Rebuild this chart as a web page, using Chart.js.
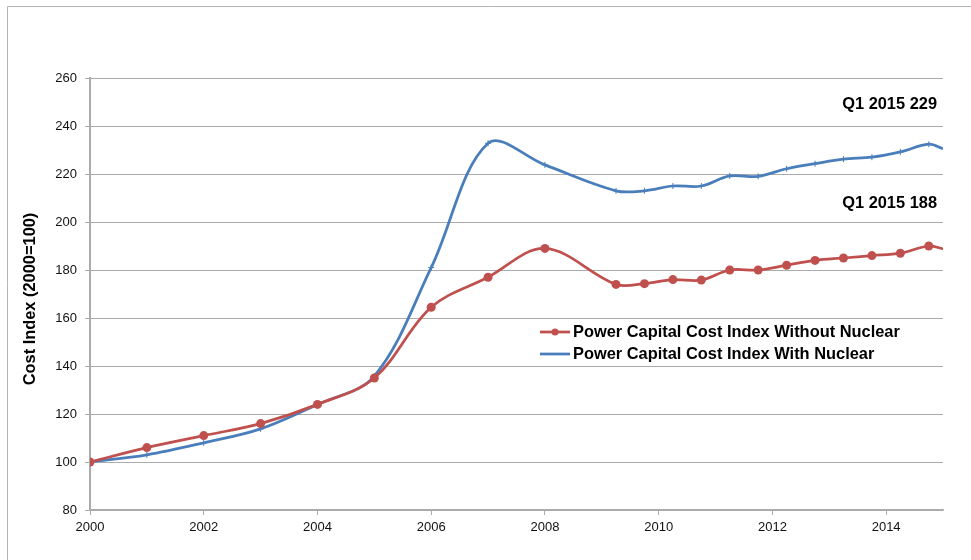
<!DOCTYPE html>
<html>
<head>
<meta charset="utf-8">
<title>Power Capital Cost Index</title>
<script src="https://cdn.jsdelivr.net/npm/chart.js@4.4.1/dist/chart.umd.min.js"></script>
<style>
  html, body { margin: 0; padding: 0; background: #fff; }
  #wrap { width: 971px; height: 560px; position: relative; }
</style>
</head>
<body>
<div id="wrap"><canvas id="costChart" width="971" height="560"></canvas></div>
<script>
// --- data ---
const years = [2000, 2001, 2002, 2003, 2004, 2005, 2006, 2007, 2008,
  2009.25, 2009.75, 2010.25, 2010.75, 2011.25, 2011.75, 2012.25, 2012.75,
  2013.25, 2013.75, 2014.25, 2014.75, 2015];
const withoutNuclear = [100, 106, 111, 116, 124, 135, 164.5, 177, 189,
  174, 174.3, 176, 175.8, 180, 180, 182, 184, 185, 186, 187, 190, 188.8];
const withNuclear = [100, 103, 108, 113.8, 124, 135.8, 181, 232.8, 223.8,
  213, 213, 215, 215, 219.2, 219, 222.2, 224.3, 226.2, 227, 229.2, 232.4, 230.5];
const xTicks = [2000, 2002, 2004, 2006, 2008, 2010, 2012, 2014];
const yTicks = [80, 100, 120, 140, 160, 180, 200, 220, 240, 260];
const seriesLabels = ['Power Capital Cost Index Without Nuclear', 'Power Capital Cost Index With Nuclear'];
const notes = ['Q1 2015 229', 'Q1 2015 188'];
const yTitle = 'Cost Index (2000=100)';

const RED = '#C0504D';
const BLUE = '#4A7EBB';
const GRID = '#ababab';
const BOLD = 'bold 16.4px "Liberation Sans", Arial, sans-serif';

const lastIdx = years.length - 1;

// frame, y title, legend and the two notes
const extras = {
  id: 'extras',
  beforeDraw(chart) {
    const ctx = chart.ctx;
    ctx.save();
    ctx.fillStyle = '#fff';
    ctx.fillRect(0, 0, chart.width, chart.height);
    ctx.strokeStyle = '#b4b4b4';
    ctx.lineWidth = 1;
    ctx.beginPath();
    ctx.moveTo(7.5, chart.height);
    ctx.lineTo(7.5, 6.5);
    ctx.lineTo(chart.width, 6.5);
    ctx.stroke();
    ctx.restore();
  },
  afterDraw(chart) {
    const ctx = chart.ctx;
    ctx.save();
    ctx.fillStyle = '#000';
    ctx.font = BOLD;

    // y axis title
    ctx.save();
    ctx.translate(30, 299);
    ctx.rotate(-Math.PI / 2);
    ctx.textAlign = 'center';
    ctx.textBaseline = 'middle';
    ctx.fillText(yTitle, 0, 0);
    ctx.restore();

    // notes at the right
    ctx.textAlign = 'right';
    ctx.textBaseline = 'middle';
    ctx.fillText(notes[0], 937, 104);
    ctx.fillText(notes[1], 937, 203);

    // legend inside the plot
    const rows = [332, 354];
    chart.data.datasets.forEach((ds, i) => {
      const y = rows[i];
      ctx.strokeStyle = ds.borderColor;
      ctx.lineWidth = 2.75;
      ctx.beginPath();
      ctx.moveTo(540, y);
      ctx.lineTo(570, y);
      ctx.stroke();
      if (ds.pointStyle === 'circle') {
        ctx.fillStyle = ds.borderColor;
        ctx.beginPath();
        ctx.arc(555, y, 3.5, 0, Math.PI * 2);
        ctx.fill();
      }
      ctx.fillStyle = '#000';
      ctx.textAlign = 'left';
      ctx.fillText(ds.label, 573, y);
    });
    ctx.restore();
  }
};

new Chart(document.getElementById('costChart'), {
  type: 'line',
  data: {
    datasets: [
      {
        label: seriesLabels[0],
        data: years.map((x, i) => ({ x: x, y: withoutNuclear[i] })),
        borderColor: RED,
        backgroundColor: RED,
        borderWidth: 2.75,
        pointStyle: 'circle',
        pointRadius: ctx => ctx.dataIndex === lastIdx ? 0 : 4.5,
        pointBorderWidth: 0,
        tension: 0.35
      },
      {
        label: seriesLabels[1],
        data: years.map((x, i) => ({ x: x, y: withNuclear[i] })),
        borderColor: BLUE,
        backgroundColor: BLUE,
        borderWidth: 2.75,
        pointStyle: 'cross',
        pointRadius: ctx => ctx.dataIndex === lastIdx ? 0 : 3,
        pointBorderWidth: 1,
        tension: 0.35
      }
    ]
  },
  options: {
    responsive: false,
    animation: false,
    layout: { padding: { left: 0, top: 78, right: 28, bottom: 0 } },
    plugins: { legend: { display: false }, tooltip: { enabled: false } },
    scales: {
      x: {
        type: 'linear',
        min: 2000,
        max: 2015,
        afterBuildTicks: axis => { axis.ticks = xTicks.map(v => ({ value: v })); },
        afterFit: axis => { axis.height = 50; },
        grid: { drawOnChartArea: false, drawTicks: true, tickLength: 5, color: GRID },
        border: { color: GRID, width: 1.5 },
        ticks: {
          padding: 5,
          color: '#111',
          font: { family: '"Liberation Sans", Arial, sans-serif', size: 13 },
          callback: v => String(v)
        }
      },
      y: {
        min: 80,
        max: 260,
        afterBuildTicks: axis => { axis.ticks = yTicks.map(v => ({ value: v })); },
        afterFit: axis => { axis.width = 90; },
        grid: { color: GRID, lineWidth: 1, tickLength: 5 },
        border: { color: GRID, width: 2 },
        ticks: {
          padding: 8,
          color: '#111',
          font: { family: '"Liberation Sans", Arial, sans-serif', size: 13 },
          callback: v => String(v)
        }
      }
    }
  },
  plugins: [extras]
});
</script>
</body>
</html>
